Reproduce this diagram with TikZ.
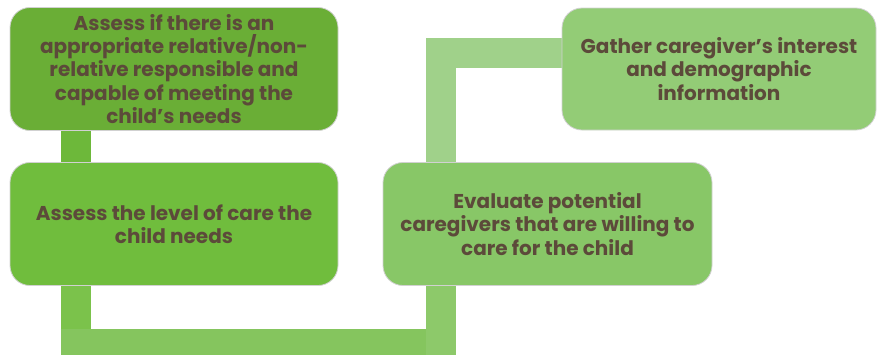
\documentclass[tikz,border=0pt]{standalone}
\usepackage{fontspec}
\setmainfont{Poppins}
\usepackage{xcolor}
\usetikzlibrary{positioning, backgrounds}

\definecolor{boxone}{HTML}{6AAE36}
\definecolor{boxtwo}{HTML}{70BD3D}
\definecolor{boxthree}{HTML}{88C767}
\definecolor{boxfour}{HTML}{93CC76}
\definecolor{linkone}{HTML}{6DB83A}
\definecolor{linktwo}{HTML}{7BC24B}
\definecolor{linkthree}{HTML}{85C55E}
\definecolor{linkfour}{HTML}{8DC96A}
\definecolor{linkfive}{HTML}{A0D18A}
\definecolor{txtbrown}{HTML}{5C4A3A}

\begin{document}
\begin{tikzpicture}[x=1pt, y=-1pt,
    stepbox/.style={rounded corners=20pt, draw=black!18, line width=0.8pt,
        minimum width=328pt, minimum height=123pt, inner sep=0pt,
        align=center, text=txtbrown,
        font=\bfseries\fontsize{20}{23.3}\selectfont},
    link/.style={line width=30pt, line cap=butt, line join=miter}]

    % Fix the page size
    \useasboundingbox (0,0) rectangle (878,354);

    % Draw the four steps
    \node[stepbox, fill=boxone] (assess) at (174,69)
        {Assess if there is an\\appropriate relative/non-\\relative responsible and\\capable of meeting the\\child’s needs};
    \node[stepbox, fill=boxtwo] (level) at (174,224)
        {Assess the level of care the\\child needs};
    \node[stepbox, fill=boxthree, minimum width=329pt] (evaluate) at (547.5,224)
        {Evaluate potential\\caregivers that are willing to\\care for the child};
    \node[stepbox, fill=boxfour, minimum width=314pt, minimum height=122pt] (gather) at (719,69)
        {Gather caregiver’s interest\\and demographic\\information};

    % Draw the bent connectors behind the steps
    \begin{pgfonlayer}{background}
        \draw[link, linkone] ([xshift=66pt]assess.south west) -- ([xshift=66pt]level.north west);
        \draw[link, linktwo] ([xshift=66pt]level.south west) -- ++(0,43);
        \draw[link, linkthree] ([xshift=51pt, yshift=-58pt]level.south west) -- ([xshift=43pt, yshift=-58pt]evaluate.south west);
        \draw[link, linkfour] ([xshift=58pt, yshift=-73pt]evaluate.south west) -- ([xshift=58pt]evaluate.south west);
        \draw[link, linkfive] ([xshift=58pt]evaluate.north west) |- ([yshift=16pt]gather.west);
    \end{pgfonlayer}
\end{tikzpicture}
\end{document}
